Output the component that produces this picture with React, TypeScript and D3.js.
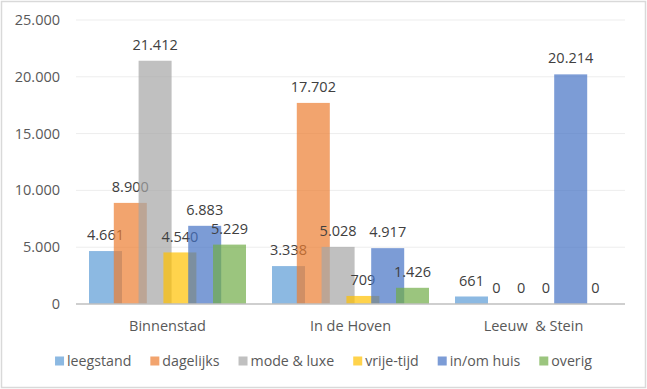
import React from 'react';
import * as d3 from 'd3';

const categories = ['Binnenstad', 'In de Hoven', 'Leeuw  & Stein'];
const seriesNames = ['leegstand', 'dagelijks', 'mode & luxe', 'vrije-tijd', 'in/om huis', 'overig'];
const seriesColors = ['#5B9BD5', '#ED7D31', '#A5A5A5', '#FFC000', '#4472C4', '#70AD47'];
const leegstand = [4661, 3338, 661];
const dagelijks = [8900, 17702, 0];
const modeLuxe = [21412, 5028, 0];
const vrijeTijd = [4540, 709, 0];
const inOmHuis = [6883, 4917, 20214];
const overig = [5229, 1426, 0];
const yTicks = [0, 5000, 10000, 15000, 20000, 25000];

const seriesValues = [leegstand, dagelijks, modeLuxe, vrijeTijd, inOmHuis, overig];

const width = 647;
const height = 389;
const margin = {left: 76, right: 22, top: 20, bottom: 85};
const font = '"Open Sans", sans-serif';

const fmt = (n: number) => d3.format(',')(n).replace(/,/g, '.');

function legendWidths(fontSize: number) {
    const ctx = document.createElement('canvas').getContext('2d');
    if (!ctx) return seriesNames.map((s) => s.length * 7);
    ctx.font = `${fontSize}px "Open Sans"`;
    return seriesNames.map((s) => ctx.measureText(s).width);
}

export default function App() {
    const plotW = width - margin.left - margin.right;
    const plotH = height - margin.top - margin.bottom;

    const x0 = d3.scaleBand().domain(categories).range([0, plotW]);
    const y = d3.scaleLinear().domain([0, 25000]).range([plotH, 0]);

    // Excel-style overlapping bars
    const groupPad = 13;
    const barW = 33;
    const step = (x0.bandwidth() - 2 * groupPad - barW) / (seriesNames.length - 1);

    const legendFont = 14.2;
    const widths = legendWidths(legendFont);
    const box = 9;
    const gapInner = 3;
    const gapItem = 19;
    const total = d3.sum(widths) + seriesNames.length * (box + gapInner) + gapItem * (seriesNames.length - 1);
    let lx = (width - total) / 2;
    const legendItems = seriesNames.map((name, i) => {
        const item = {name, x: lx, color: seriesColors[i]};
        lx += box + gapInner + widths[i] + gapItem;
        return item;
    });

    return (
        <svg width={width} height={height} style={{display: 'block', position: 'absolute', left: 0, top: 0}}>
            <rect x={1.5} y={1.5} width={width - 3} height={height - 3} fill="#fff" stroke="#D9D9D9" strokeWidth={1.5} />
            <g transform={`translate(${margin.left}, ${margin.top})`}>
                {yTicks.map((t) => (
                    <g key={t}>
                        {t > 0 && <line x1={0} x2={plotW} y1={y(t)} y2={y(t)} stroke="#EDEDED" strokeWidth={1} />}
                        <text x={-16} y={y(t)} dy="0.35em" textAnchor="end" fontFamily={font} fontSize={14.5} fill="#595959">
                            {fmt(t)}
                        </text>
                    </g>
                ))}
                {categories.map((c, ci) => (
                    <g key={c} transform={`translate(${x0(c)}, 0)`}>
                        {seriesValues.map((vals, si) => {
                            const bx = groupPad + si * step;
                            return (
                                <g key={si}>
                                    <rect x={bx} y={y(vals[ci])} width={barW} height={plotH - y(vals[ci])}
                                        fill={seriesColors[si]} fillOpacity={0.7} />
                                    <text x={bx + barW / 2} y={y(vals[ci]) - 16} dy="0.35em" textAnchor="middle"
                                        fontFamily={font} fontSize={14.5} fill="#404040">
                                        {fmt(vals[ci])}
                                    </text>
                                </g>
                            );
                        })}
                        <text x={x0.bandwidth() / 2} y={plotH + 22} dy="0.35em" textAnchor="middle"
                            fontFamily={font} fontSize={14.5} fill="#595959" style={{whiteSpace: 'pre'}}>
                            {c}
                        </text>
                    </g>
                ))}
                <line x1={0} x2={plotW} y1={plotH} y2={plotH} stroke="#BFBFBF" strokeWidth={1.5} />
            </g>
            {legendItems.map((it) => (
                <g key={it.name}>
                    <rect x={it.x} y={361 - box / 2} width={box} height={box} fill={it.color} fillOpacity={0.7} />
                    <text x={it.x + box + gapInner} y={361} dy="0.35em" fontFamily={font} fontSize={legendFont} fill="#595959">
                        {it.name}
                    </text>
                </g>
            ))}
        </svg>
    );
}
